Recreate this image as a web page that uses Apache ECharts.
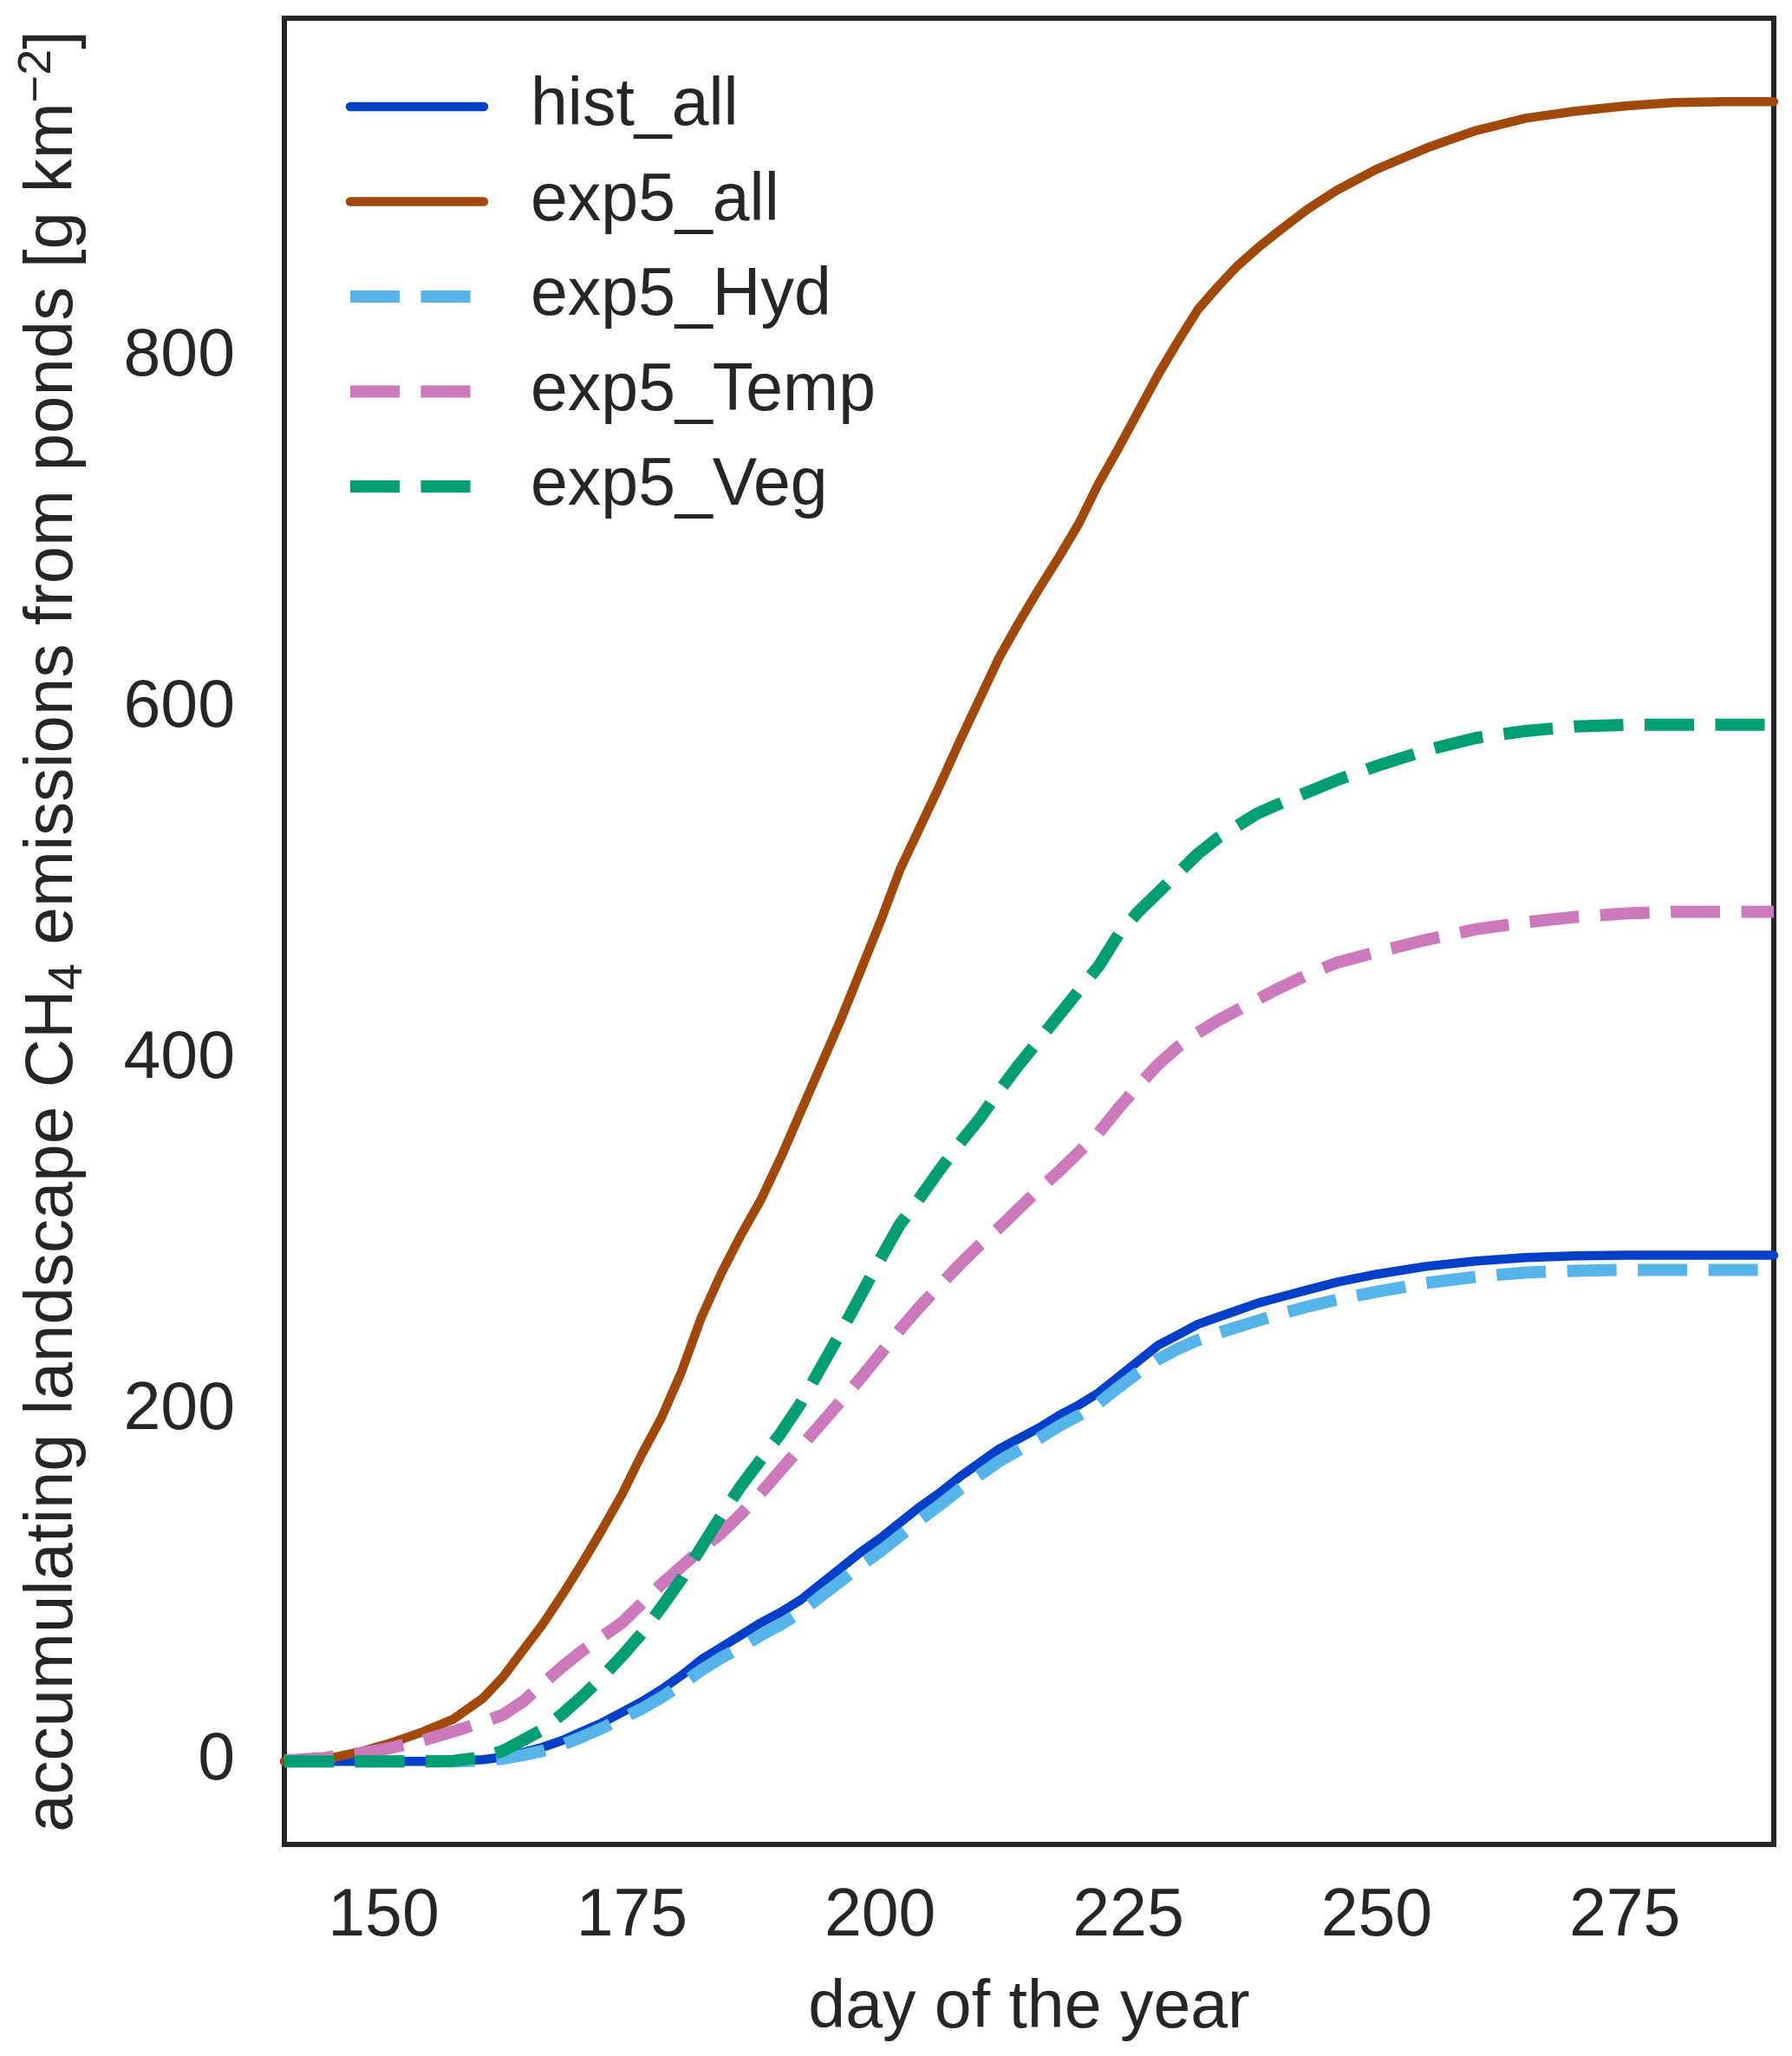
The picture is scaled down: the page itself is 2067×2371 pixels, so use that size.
<!DOCTYPE html>
<html>
<head>
<meta charset="utf-8">
<script src="https://cdn.jsdelivr.net/npm/echarts@6/dist/echarts.min.js"></script>
<style>
html,body{margin:0;padding:0;background:#fff;}
#chart{width:2067px;height:2371px;}
</style>
</head>
<body>
<div id="chart"></div>
<script>
const days = [140,144,148,151,154,157,160,162,164,166,168,170,172,174,176,178,180,182,184,186,188,190,192,194,196,198,200,202,204,206,208,210,212,214,216,218,220,222,224,226,228,230,232,234,236,238,240,243,246,250,255,260,265,270,275,280,285,290];

const histAll = [0,0,0,0,0,0.3,1,2.5,5,8,12,17,22,28,34,41,49,58,65,72,79,85,92,101,110,119,127,136,145,153,162,170,178,184,190,197,203,210,219,228,237,243,249,253,257,261,264,268.5,273,277.5,282,285,287,288,288.3,288.3,288.3,288.3];

const exp5All = [0,1,6,11,17,24,36,48,63,78,95,113,132,152,175,196,222,253,278,300,320,344,370,396,422,450,478,508,532,556,581,605,629,649,668,686,705,728,748,769,790,809,827,840,852,862,871,884,895,907,919,929,936,940,943,945,945.5,945.5];

const exp5Hyd = [0,0,0,0,0,0,0.5,1.5,3.5,6,9.5,14,19,24.5,30,36.5,44,52,59,65,72,78,85,94,102.5,111.5,119.5,128.5,137.5,146,155,163,171,177.5,184,191,197,204,213,221.5,229,235,240,244,247.5,251,254.5,259,263,267.5,272.5,276,278.5,279.5,280,280,280,280];

const exp5Temp = [0.5,2,5,8,12,17,22.5,26.5,34,44,54,63,71,79,90,101,111,121,130,141,153,166,179,192,205,218,232,246,259,271,283,294,304,315,326,336,347,358,372,385,397,407,415,422,428,434,440,448,455,461,468,474,478,481,483,484,484,484];

const exp5Veg = [0,0,0,0,0,0.3,2.5,6,12,18,27,37,48,60,73,88,104,122,140,157,172,187,204,224,244,265,286,306,321,337,352,366,382,397,411,425,439,453,471,484,495,506,517,526,533,540,545,552,559,567,576,583,587,589.5,590.5,590.5,590.5,590.5];

const seriesNames = ['hist_all','exp5_all','exp5_Hyd','exp5_Temp','exp5_Veg'];
const xTicks = [150,175,200,225,250,275];
const yTicks = [0,200,400,600,800];

const FONT = 'Liberation Sans, Arial, Helvetica, sans-serif';
const TXT = '#262626';
const dash = [57, 24.5];

const defs = [
  {name: seriesNames[0], vals: histAll,  color: '#0040C8', width: 10.5, type: 'solid', cap: 'round'},
  {name: seriesNames[1], vals: exp5All,  color: '#A0490B', width: 10.5, type: 'solid', cap: 'round'},
  {name: seriesNames[2], vals: exp5Hyd,  color: '#56B4E9', width: 14, type: dash, cap: 'butt'},
  {name: seriesNames[3], vals: exp5Temp, color: '#CC78BC', width: 14, type: dash, cap: 'butt'},
  {name: seriesNames[4], vals: exp5Veg,  color: '#029E73', width: 14, type: dash, cap: 'butt'}
];

const chart = echarts.init(document.getElementById('chart'));
chart.setOption({
  animation: false,
  backgroundColor: '#ffffff',
  textStyle: {fontFamily: FONT, color: TXT},
  grid: {
    left: 328, top: 21, width: 1718, height: 2106,
    show: true, borderColor: TXT, borderWidth: 6, backgroundColor: 'transparent'
  },
  legend: {
    orient: 'vertical',
    left: 397, top: 83,
    padding: 0,
    itemWidth: 154, itemHeight: 14,
    itemGap: 29.5,
    textStyle: {fontSize: 77, color: TXT, fontFamily: FONT, lineHeight: 80, padding: [0,0,0,49]},
    data: defs.map(d => ({
      name: d.name,
      itemStyle: {opacity: 0, color: 'rgba(0,0,0,0)', borderWidth: 0},
      lineStyle: {width: d.width, type: d.type, cap: d.cap, color: d.color}
    }))
  },
  xAxis: {
    type: 'value', min: 140, max: 290,
    name: 'day of the year', nameLocation: 'middle', nameGap: 151,
    nameTextStyle: {fontSize: 77, color: TXT, fontFamily: FONT},
    axisLine: {show: false}, axisTick: {show: false}, splitLine: {show: false},
    axisLabel: {customValues: xTicks, fontSize: 77, color: TXT, fontFamily: FONT, margin: 45}
  },
  yAxis: {
    type: 'value', min: -47.3, max: 993,
    name: '{n|accumulating landscape CH}{s|4}{n| emissions from ponds [g km}{p|−2}{n|]}',
    nameLocation: 'middle', nameGap: 222, nameRotate: 90,
    nameTextStyle: {
      fontSize: 78, color: TXT, fontFamily: FONT,
      rich: {
        n: {fontSize: 78, lineHeight: 90, color: TXT, fontFamily: FONT},
        s: {fontSize: 55, lineHeight: 53, verticalAlign: 'bottom', color: TXT, fontFamily: FONT},
        p: {fontSize: 54, lineHeight: 40, verticalAlign: 'top', color: TXT, fontFamily: FONT}
      }
    },
    axisLine: {show: false}, axisTick: {show: false}, splitLine: {show: false},
    axisLabel: {customValues: yTicks, fontSize: 77, color: TXT, fontFamily: FONT, margin: 57}
  },
  series: defs.map(d => ({
    name: d.name,
    type: 'line',
    symbol: 'none',
    smooth: false,
    clip: true,
    data: days.map((x, i) => [x, d.vals[i]]),
    lineStyle: {width: d.width, type: d.type, cap: d.cap, join: 'round', color: d.color},
    itemStyle: {color: d.color}
  }))
});
</script>
</body>
</html>
